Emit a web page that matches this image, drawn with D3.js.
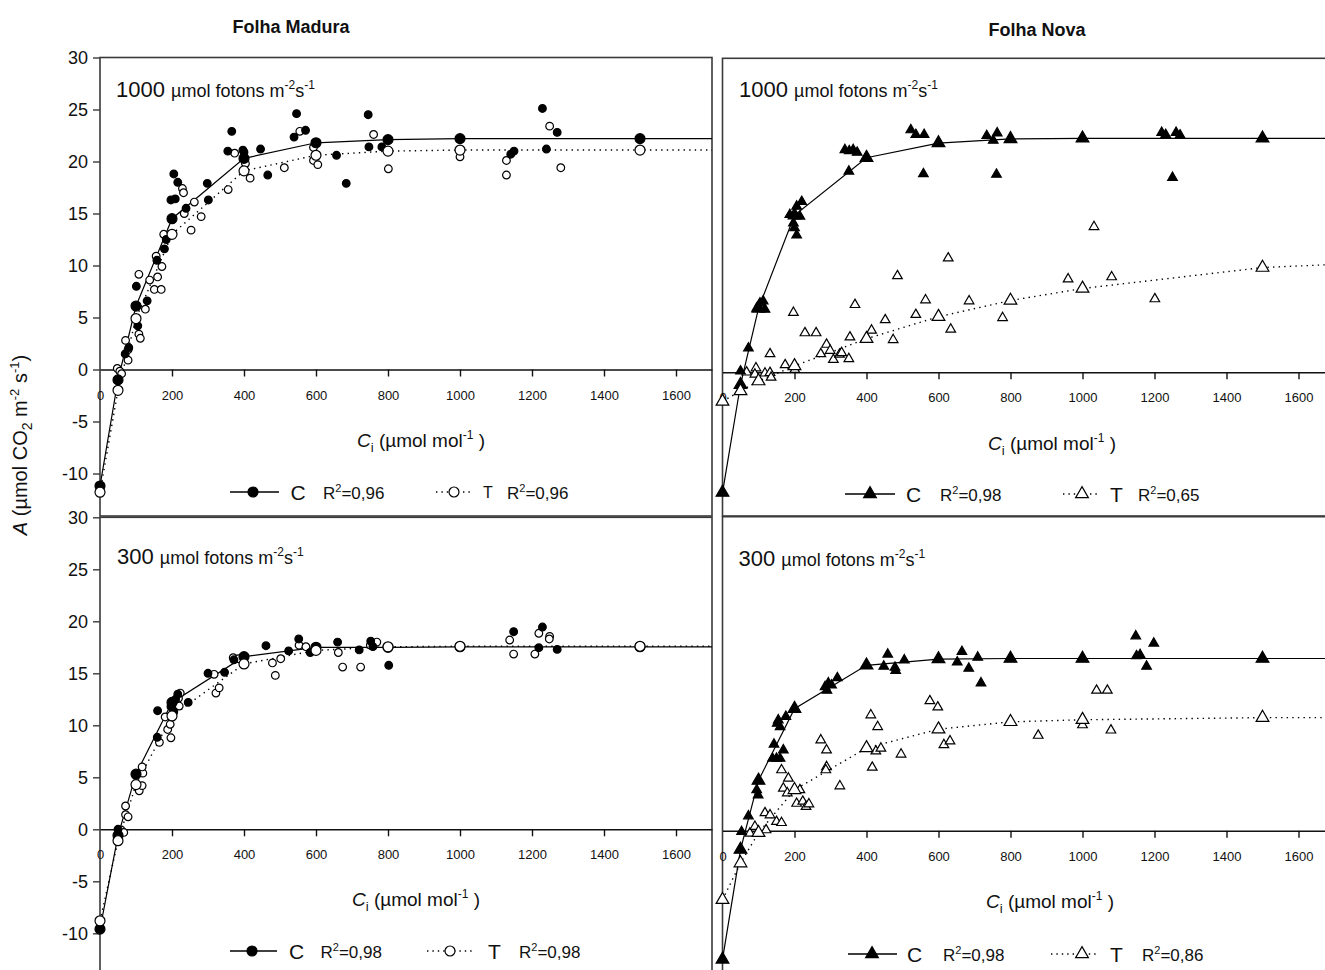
<!DOCTYPE html>
<html>
<head>
<meta charset="utf-8">
<script src="https://cdn.jsdelivr.net/npm/d3@7"></script>
<style>
  body { margin: 0; background: #fff; }
  svg { display: block; font-family: Arial, "Liberation Sans", sans-serif; }
</style>
</head>
<body>
<svg id="chart" width="1325" height="970"></svg>
<script>
// ---------- data ----------
const xTicks = [0, 200, 400, 600, 800, 1000, 1200, 1400, 1600];
const yTicks = [-10, -5, 0, 5, 10, 15, 20, 25, 30];
const columnTitles = ["Folha Madura", "Folha Nova"];
const lightLevels = ["1000", "300"];
const seriesNames = ["C", "T"];

// Ci levels of the fitted curves (last entry = end of the axis)
const curveCi = [0, 50, 100, 200, 400, 600, 800, 1000, 1500, 1700];

// Folha Madura, 1000 µmol fotons
const madura1000C = [[70,1.5],[80,2.1],[101,8.0],[105,4.2],[131,6.6],[158,10.5],[179,11.6],[184,12.5],[197,16.3],[209,16.4],[205,18.8],[216,18.0],[239,15.5],[298,17.9],[301,16.3],[355,21.0],[366,22.9],[397,21.1],[400,20.9],[446,21.2],[466,18.7],[539,22.35],[546,24.6],[571,23.0],[657,20.6],[684,17.9],[745,24.5],[747,21.4],[783,21.4],[1141,20.7],[1150,21.0],[1229,25.1],[1270,22.8],[1240,21.2]];
const madura1000T = [[48,0.1],[55,-0.16],[60,-0.4],[71,2.8],[78,0.9],[78,1.9],[108,9.15],[108,3.4],[112,3.0],[126,5.8],[138,8.6],[151,7.7],[156,10.9],[160,8.9],[170,7.7],[172,9.9],[177,13.0],[229,17.4],[232,17.0],[234,15.0],[253,13.4],[262,16.1],[281,14.7],[356,17.3],[374,20.8],[404,19.8],[417,18.4],[512,19.4],[555,22.9],[593,21.35],[593,20.1],[605,19.7],[760,22.6],[801,19.3],[1000,20.45],[1129,20.1],[1129,18.7],[1249,23.4],[1280,19.4]];
const madura1000CFit = [-11.2, -1.0, 6.1, 14.5, 20.3, 21.8, 22.1, 22.2, 22.2, 22.2];
const madura1000TFit = [-11.8, -2.0, 4.9, 13.0, 19.1, 20.6, 21.0, 21.1, 21.1, 21.1];
const r2Madura1000 = ["0,96", "0,96"];

// Folha Madura, 300 µmol fotons
const madura300C = [[50,0.0],[159,8.85],[160,11.4],[197,11.8],[205,11.3],[210,12.5],[216,13.0],[245,12.2],[300,15.0],[346,15.1],[372,16.3],[461,17.65],[524,17.15],[552,18.3],[584,17.0],[660,18.0],[720,17.25],[752,18.1],[758,17.56],[802,15.77],[1149,19.0],[1229,19.45],[1219,17.46],[1270,17.3]];
const madura300T = [[59,-0.07],[66,-0.3],[71,2.24],[71,1.4],[78,1.2],[109,3.7],[117,4.2],[119,5.4],[117,6.0],[165,8.36],[181,10.8],[188,9.6],[195,10.1],[197,8.8],[218,12.6],[223,13.1],[220,11.85],[317,14.9],[322,13.1],[331,13.6],[370,16.5],[385,16.4],[479,16.0],[487,14.8],[502,16.4],[553,17.7],[572,17.56],[662,17.0],[674,15.6],[724,15.6],[751,17.7],[769,18.0],[1138,18.2],[1149,16.85],[1219,18.85],[1249,18.55],[1248,18.3],[1208,16.85]];
const madura300CFit = [-9.6, -0.6, 5.3, 12.2, 16.6, 17.5, 17.5, 17.55, 17.55, 17.55];
const madura300TFit = [-8.8, -1.1, 4.3, 10.9, 15.9, 17.2, 17.55, 17.6, 17.6, 17.6];
const r2Madura300 = ["0,98", "0,98"];

// Folha Nova, 1000 µmol fotons
const nova1000C = [[50,0.1],[72,2.3],[95,6.1],[104,6.6],[113,6.8],[118,6.0],[187,15.05],[206,15.85],[220,16.3],[215,14.9],[197,14.25],[206,13.1],[200,13.8],[351,19.2],[340,21.25],[352,21.15],[363,21.25],[374,21.0],[523,23.15],[537,22.7],[560,22.7],[558,18.95],[734,22.6],[752,22.15],[763,22.85],[761,18.9],[1220,22.9],[1231,22.7],[1260,22.9],[1271,22.65],[1250,18.6]];
const nova1000T = [[67,0.0],[93,0.4],[90,-0.2],[118,-0.1],[132,-0.05],[135,-0.5],[132,1.75],[174,0.7],[201,0.25],[197,5.7],[229,3.75],[260,3.75],[289,2.65],[273,1.75],[299,2.07],[308,1.2],[325,1.7],[331,1.85],[351,1.28],[354,3.35],[368,6.45],[414,4.0],[452,5.0],[474,3.1],[486,9.2],[537,5.5],[564,6.9],[627,10.9],[634,4.1],[685,6.8],[778,5.2],[960,8.9],[1032,13.9],[1081,9.1],[1201,7.0]];
const nova1000CFit = [-11.5, -1.2, 6.1, 15.0, 20.5, 21.9, 22.3, 22.35, 22.35, 22.35];
const nova1000TFit = [-2.8, -1.8, -0.85, 0.6, 3.2, 5.3, 6.85, 8.0, 10.0, 10.3];
const r2Nova1000 = ["0,98", "0,65"];

// Folha Nova, 300 µmol fotons
const nova300C = [[53,-0.1],[72,1.4],[95,3.9],[99,3.4],[139,6.9],[150,6.9],[160,6.9],[143,8.25],[169,7.7],[155,10.57],[160,9.93],[152,10.25],[176,10.9],[285,13.75],[294,14.1],[303,13.9],[319,14.6],[290,13.4],[448,15.7],[459,16.85],[479,15.6],[481,15.3],[505,16.3],[652,16.1],[665,17.1],[684,15.5],[709,16.56],[718,14.1],[1148,18.6],[1198,17.9],[1150,16.7],[1160,16.8],[1178,15.7]];
const nova300T = [[76,-0.25],[90,0.4],[118,1.7],[121,0.07],[132,1.5],[150,0.86],[164,0.76],[164,5.8],[169,4.05],[180,3.6],[183,5.0],[215,3.9],[206,2.6],[223,2.8],[232,2.3],[240,2.55],[273,8.66],[289,7.7],[289,6.1],[287,5.8],[326,4.27],[412,11.05],[431,9.93],[426,7.6],[440,7.87],[416,6.05],[496,7.3],[576,12.4],[598,11.8],[615,8.2],[632,8.56],[877,9.1],[1000,10.1],[1039,13.4],[1069,13.4],[1079,9.6]];
const nova300CFit = [-12.3, -1.8, 4.8, 11.65, 15.8, 16.4, 16.45, 16.45, 16.45, 16.45];
const nova300TFit = [-6.6, -3.1, -0.2, 3.9, 7.9, 9.7, 10.4, 10.6, 10.8, 10.8];
const r2Nova300 = ["0,98", "0,86"];

// ---------- layout ----------
const svg = d3.select("#chart");
const PANEL_W = 612;
const FRAME = "#3a3a3a";
const FONT = "Arial, 'Liberation Sans', sans-serif";

const panels = [
  { x0: 100, top: 57.5, zero: 369.5, bottom: 516, shape: "circle", yAxis: true,
    cObs: madura1000C, tObs: madura1000T, cFit: madura1000CFit, tFit: madura1000TFit,
    light: lightLevels[0], r2: r2Madura1000, labelX: 116, labelY: 96.5, ciX: 421, ciY: 447,
    leg: { y: 492, solid: [230, 279], cMark: 253, cText: 290.5, cR2: 323, dotted: [436, 471], tMark: 454, tText: 483, tSize: 16, tR2: 507 } },
  { x0: 100, top: 517.3, zero: 829.3, bottom: 980, shape: "circle", yAxis: true,
    cObs: madura300C, tObs: madura300T, cFit: madura300CFit, tFit: madura300TFit,
    light: lightLevels[1], r2: r2Madura300, labelX: 117, labelY: 564, ciX: 416, ciY: 906,
    leg: { y: 951, solid: [230, 277], cMark: 252, cText: 289, cR2: 320.5, dotted: [427, 473], tMark: 450, tText: 488, tSize: 21, tR2: 519 } },
  { x0: 722.5, top: 58.3, zero: 372.2, bottom: 516, shape: "triangle", yAxis: false,
    cObs: nova1000C, tObs: nova1000T, cFit: nova1000CFit, tFit: nova1000TFit,
    light: lightLevels[0], r2: r2Nova1000, labelX: 739, labelY: 97, ciX: 1052, ciY: 450,
    leg: { y: 494, solid: [845, 895], cMark: 870, cText: 906, cR2: 940, dotted: [1063, 1097], tMark: 1082, tText: 1110, tSize: 21, tR2: 1138 } },
  { x0: 722.5, top: 516.7, zero: 830.7, bottom: 980, shape: "triangle", yAxis: false,
    cObs: nova300C, tObs: nova300T, cFit: nova300CFit, tFit: nova300TFit,
    light: lightLevels[1], r2: r2Nova300, labelX: 738.5, labelY: 566, ciX: 1050, ciY: 908,
    leg: { y: 954, solid: [848, 897], cMark: 872, cText: 907, cR2: 943, dotted: [1051, 1098], tMark: 1082, tText: 1110, tSize: 21, tR2: 1142 } }
];

const SMALL = { circle: 46, triangle: 40 };
const BIG = { circle: 78, triangle: 70 };

function drawMarker(g, px, py, shape, filled, area) {
  const sym = shape === "circle" ? d3.symbolCircle : d3.symbolTriangle;
  g.append("path")
    .attr("d", d3.symbol().type(sym).size(area)())
    .attr("transform", `translate(${px},${py})`)
    .attr("fill", filled ? "#000" : "#fff")
    .attr("stroke", "#000")
    .attr("stroke-width", 1.2);
}

panels.forEach(p => {
  const x = d3.scaleLinear().domain([0, 1700]).range([p.x0, p.x0 + PANEL_W]);
  const y = d3.scaleLinear().domain([0, 30]).range([p.zero, p.top]);
  const g = svg.append("g");

  // frame
  g.append("rect")
    .attr("x", p.x0).attr("y", p.top)
    .attr("width", PANEL_W).attr("height", p.bottom - p.top)
    .attr("fill", "none").attr("stroke", FRAME).attr("stroke-width", 1.6);

  // x axis along A = 0
  const xAxis = d3.axisBottom(x).tickValues(xTicks).tickSize(7).tickSizeOuter(0).tickFormat(d => String(d));
  const xa = g.append("g").attr("transform", `translate(0,${p.zero})`).call(xAxis);
  xa.select(".domain").attr("stroke", "#111").attr("stroke-width", 1.4);
  xa.selectAll(".tick line").attr("stroke", "#111").attr("stroke-width", 1.4)
    .filter(d => d === 0).remove();
  xa.selectAll(".tick text").attr("y", 30).attr("dy", 0)
    .attr("font-size", 13).attr("font-family", FONT).attr("fill", "#111");

  // y axis (left column only)
  if (p.yAxis) {
    const yAxis = d3.axisLeft(y).tickValues(yTicks).tickSize(7).tickSizeOuter(0).tickFormat(d => String(d));
    const ya = g.append("g").attr("transform", `translate(${p.x0},0)`).call(yAxis);
    ya.select(".domain").remove();
    ya.selectAll(".tick line").attr("stroke", FRAME).attr("stroke-width", 1.4);
    ya.selectAll(".tick text").attr("x", -12).attr("dy", "0.36em")
      .attr("font-size", 18).attr("font-family", FONT).attr("fill", "#111");
  }

  // fitted curves
  const line = d3.line().x((d, i) => x(curveCi[i])).y(d => y(d));
  g.append("path").datum(p.tFit).attr("d", line)
    .attr("fill", "none").attr("stroke", "#000").attr("stroke-width", 1.4)
    .attr("stroke-dasharray", "1.4,4.2");
  g.append("path").datum(p.cFit).attr("d", line)
    .attr("fill", "none").attr("stroke", "#000").attr("stroke-width", 1.2);

  // observations
  p.tObs.forEach(d => drawMarker(g, x(d[0]), y(d[1]), p.shape, false, SMALL[p.shape]));
  p.cObs.forEach(d => drawMarker(g, x(d[0]), y(d[1]), p.shape, true, SMALL[p.shape]));

  // fitted values at the measured Ci levels
  p.cFit.forEach((v, i) => { if (i < curveCi.length - 1) drawMarker(g, x(curveCi[i]), y(v), p.shape, true, BIG[p.shape]); });
  p.tFit.forEach((v, i) => { if (i < curveCi.length - 1) drawMarker(g, x(curveCi[i]), y(v), p.shape, false, BIG[p.shape]); });

  // light level label
  const lab = g.append("text").attr("x", p.labelX).attr("y", p.labelY).attr("fill", "#111");
  lab.append("tspan").attr("font-size", 22).text(p.light + " ");
  lab.append("tspan").attr("font-size", 18).text("\u00b5mol fotons m");
  lab.append("tspan").attr("font-size", 12).attr("dy", -8).text("-2");
  lab.append("tspan").attr("font-size", 18).attr("dy", 8).text("s");
  lab.append("tspan").attr("font-size", 12).attr("dy", -8).text("-1");

  // Ci axis title
  const ci = g.append("text").attr("x", p.ciX).attr("y", p.ciY).attr("text-anchor", "middle")
    .attr("font-size", 19).attr("fill", "#111");
  ci.append("tspan").attr("font-style", "italic").text("C");
  ci.append("tspan").attr("font-size", 13).attr("dy", 5).text("i");
  ci.append("tspan").attr("dy", -5).text(" (\u00b5mol mol");
  ci.append("tspan").attr("font-size", 12).attr("dy", -8).text("-1");
  ci.append("tspan").attr("dy", 8).text(" )");

  // legend
  const L = p.leg;
  g.append("line").attr("x1", L.solid[0]).attr("x2", L.solid[1]).attr("y1", L.y).attr("y2", L.y)
    .attr("stroke", "#000").attr("stroke-width", 1.3);
  drawMarker(g, L.cMark, L.y, p.shape, true, BIG[p.shape]);
  g.append("text").attr("x", L.cText).attr("y", L.y + 8).attr("font-size", 21).attr("fill", "#111").text(seriesNames[0]);
  const r2c = g.append("text").attr("x", L.cR2).attr("y", L.y + 7).attr("font-size", 17).attr("fill", "#111");
  r2c.append("tspan").text("R");
  r2c.append("tspan").attr("font-size", 11).attr("dy", -7).text("2");
  r2c.append("tspan").attr("dy", 7).text("=" + p.r2[0]);

  g.append("line").attr("x1", L.dotted[0]).attr("x2", L.dotted[1]).attr("y1", L.y).attr("y2", L.y)
    .attr("stroke", "#000").attr("stroke-width", 1.4).attr("stroke-dasharray", "1.4,4");
  drawMarker(g, L.tMark, L.y, p.shape, false, BIG[p.shape]);
  g.append("text").attr("x", L.tText).attr("y", L.y + (L.tSize > 18 ? 8 : 6)).attr("font-size", L.tSize).attr("fill", "#111").text(seriesNames[1]);
  const r2t = g.append("text").attr("x", L.tR2).attr("y", L.y + 7).attr("font-size", 17).attr("fill", "#111");
  r2t.append("tspan").text("R");
  r2t.append("tspan").attr("font-size", 11).attr("dy", -7).text("2");
  r2t.append("tspan").attr("dy", 7).text("=" + p.r2[1]);
});

// column titles
svg.append("text").attr("x", 291).attr("y", 33).attr("text-anchor", "middle")
  .attr("font-size", 18).attr("font-weight", "bold").attr("fill", "#111").text(columnTitles[0]);
svg.append("text").attr("x", 1037).attr("y", 36).attr("text-anchor", "middle")
  .attr("font-size", 18).attr("font-weight", "bold").attr("fill", "#111").text(columnTitles[1]);

// shared y-axis title
const yt = svg.append("text").attr("transform", "translate(27,445) rotate(-90)")
  .attr("text-anchor", "middle").attr("font-size", 20).attr("fill", "#111");
yt.append("tspan").attr("font-style", "italic").text("A");
yt.append("tspan").text(" (\u00b5mol CO");
yt.append("tspan").attr("font-size", 14).attr("dy", 5).text("2");
yt.append("tspan").attr("dy", -5).text(" m");
yt.append("tspan").attr("font-size", 13).attr("dy", -8).text("-2");
yt.append("tspan").attr("dy", 8).text(" s");
yt.append("tspan").attr("font-size", 13).attr("dy", -8).text("-1");
yt.append("tspan").attr("dy", 8).text(")");
</script>
</body>
</html>
